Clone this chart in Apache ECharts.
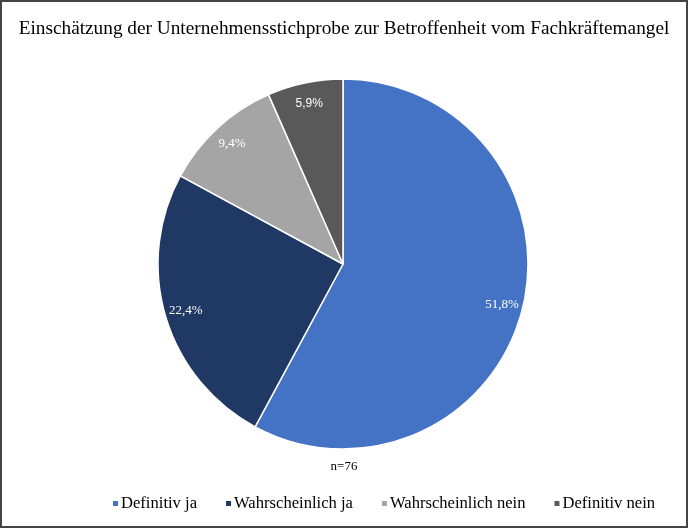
<!DOCTYPE html>
<html><head><meta charset="utf-8">
<script src="https://cdn.jsdelivr.net/npm/echarts@6/dist/echarts.min.js"></script>
<style>
html,body{margin:0;padding:0;background:#fff;}
#c{width:688px;height:528px;box-sizing:border-box;border:2px solid #444;}
</style></head>
<body><div id="c"></div>
<script>
const titleText = 'Einschätzung der Unternehmensstichprobe zur Betroffenheit vom Fachkräftemangel';
const noteText = 'n=76';
const categories = ['Definitiv ja', 'Wahrscheinlich ja', 'Wahrscheinlich nein', 'Definitiv nein'];
const values = [51.8, 22.4, 9.4, 5.9];
const colors = ['#4472C4', '#1F3864', '#A5A5A5', '#595959'];

const chart = echarts.init(document.getElementById('c'), null, {renderer: 'canvas'});
const serif = '"Liberation Serif","Times New Roman",serif';
const center = [341, 262];
const fmt = v => v.toFixed(1).replace('.', ',') + '%';

chart.setOption({
  animation: false,
  title: [
    {text: titleText, left: 'center', top: 12, textStyle: {fontFamily: serif, fontSize: 19.3, fontWeight: 'normal', color: '#000'}},
    {text: noteText, left: 'center', top: 453, textStyle: {fontFamily: serif, fontSize: 13, fontWeight: 'normal', color: '#000'}}
  ],
  legend: {
    data: categories, top: 488, left: 104, itemWidth: 7, itemHeight: 7, itemGap: 27, icon: 'rect',
    textStyle: {fontFamily: serif, fontSize: 16.6, color: '#000', padding: [0, 0, 0, -3]}
  },
  color: colors,
  series: [
    {
      type: 'pie', center: center, radius: [0, 185], startAngle: 90, clockwise: true,
      itemStyle: {borderColor: '#fff', borderWidth: 1.5},
      label: {show: false}, labelLine: {show: false}, silent: true,
      data: categories.map((n, i) => ({name: n, value: values[i]}))
    },
    {
      type: 'pie', center: center, radius: [146, 176], startAngle: 90, clockwise: true,
      itemStyle: {color: 'transparent'}, silent: true, legendHoverLink: false,
      label: {show: true, position: 'inside', fontFamily: serif, fontSize: 13, color: '#fff',
              formatter: p => fmt(p.value)},
      labelLine: {show: false},
      data: categories.map((n, i) => ({name: n + ' ', value: values[i],
        label: i === 3 ? {fontFamily: '"Liberation Sans",Arial,sans-serif', fontSize: 12} : {}}))
    }
  ]
});
</script></body></html>
